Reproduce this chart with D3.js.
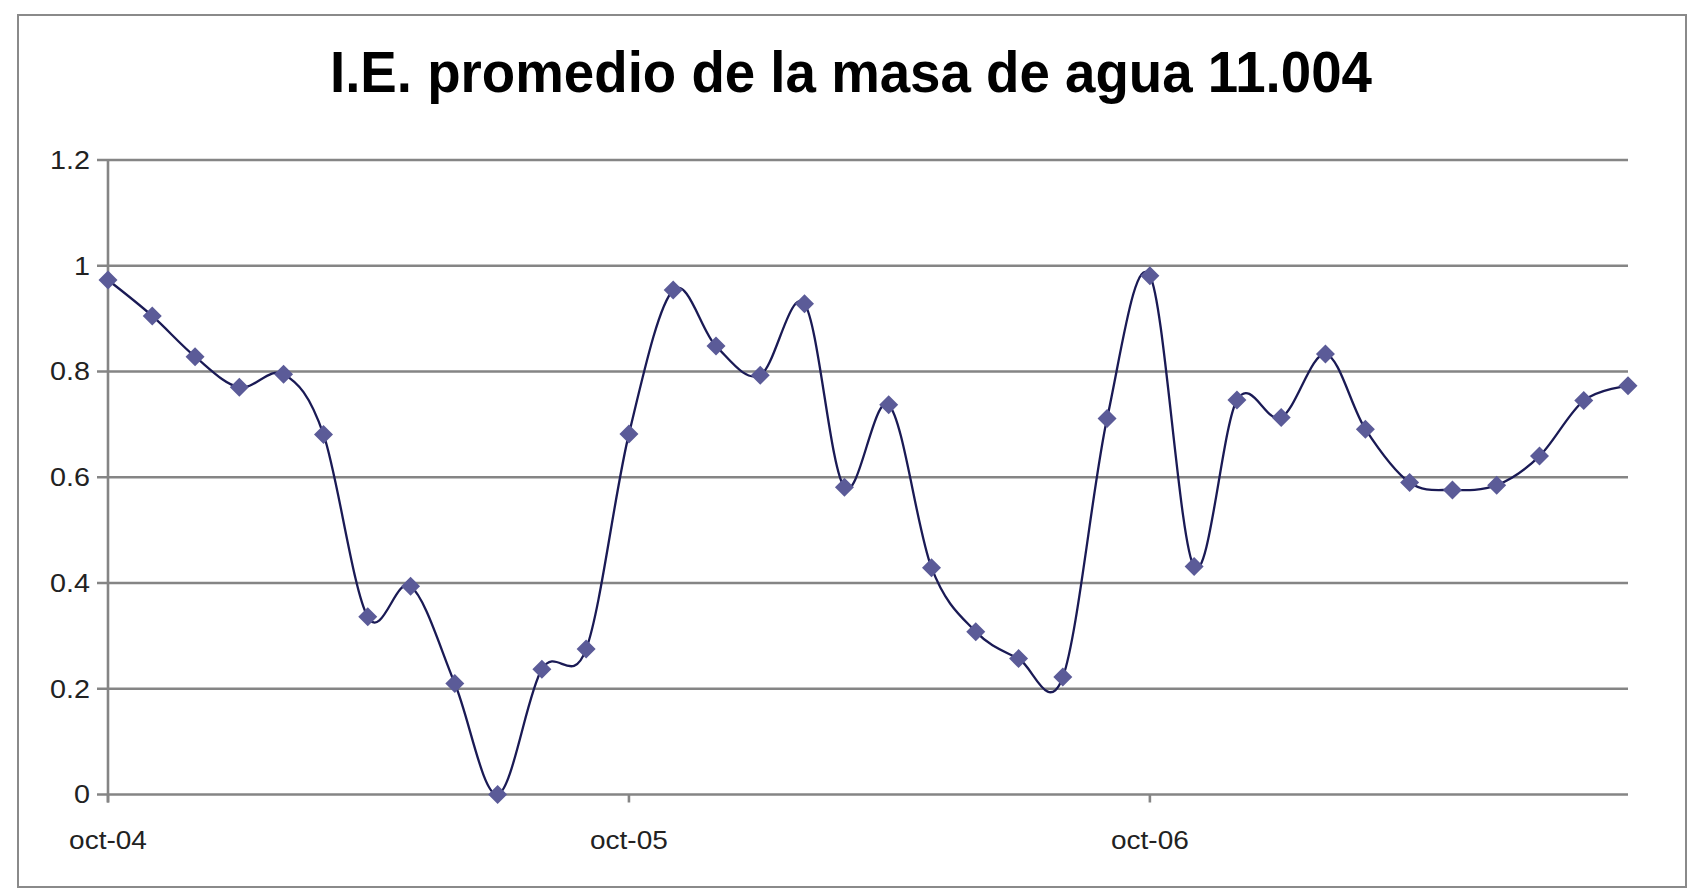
<!DOCTYPE html>
<html>
<head>
<meta charset="utf-8">
<script src="https://cdn.jsdelivr.net/npm/d3@7"></script>
<style>
	body { margin: 0; background: #fff; }
	text { font-family: Arial, "Liberation Sans", sans-serif; }
</style>
</head>
<body>
<div id="svg"></div>
<script>
const width = 1693,
			height = 889;

// months, oct-04 .. sep-07
const months = ["2004-10", "2004-11", "2004-12", "2005-01", "2005-02", "2005-03",
	"2005-04", "2005-05", "2005-06", "2005-07", "2005-08", "2005-09",
	"2005-10", "2005-11", "2005-12", "2006-01", "2006-02", "2006-03",
	"2006-04", "2006-05", "2006-06", "2006-07", "2006-08", "2006-09",
	"2006-10", "2006-11", "2006-12", "2007-01", "2007-02", "2007-03",
	"2007-04", "2007-05", "2007-06", "2007-07", "2007-08", "2007-09"];

const ieValues = [0.973, 0.905, 0.828, 0.770, 0.795, 0.681,
	0.336, 0.394, 0.210, 0.0, 0.237, 0.275,
	0.682, 0.954, 0.848, 0.793, 0.928, 0.581,
	0.737, 0.429, 0.308, 0.257, 0.222, 0.711,
	0.981, 0.431, 0.746, 0.713, 0.833, 0.691,
	0.590, 0.576, 0.585, 0.640, 0.745, 0.773];

const yTicks = [0, 0.2, 0.4, 0.6, 0.8, 1, 1.2];
const yTickLabels = ["0", "0.2", "0.4", "0.6", "0.8", "1", "1.2"];
const xTicks = ["2004-10", "2005-10", "2006-10"];
const xTickLabels = ["oct-04", "oct-05", "oct-06"];

const title = "I.E. promedio de la masa de agua 11.004";

const parseMonth = d3.timeParse("%Y-%m");
const data = months.map((m, i) => ({date: parseMonth(m), value: ieValues[i]}));

const svg = d3.select("#svg")
	.append("svg")
		.attr("width", width)
		.attr("height", height);

// chart frame
svg.append("rect")
		.attr("x", 18)
		.attr("y", 15)
		.attr("width", 1668)
		.attr("height", 872)
		.attr("fill", "#fff")
		.attr("stroke", "#8a8a8a")
		.attr("stroke-width", 2);

svg.append("text")
		.attr("x", 851)
		.attr("y", 92)
		.attr("text-anchor", "middle")
		.attr("textLength", 1042)
		.attr("lengthAdjust", "spacingAndGlyphs")
		.style("font-size", "57px")
		.style("font-weight", "bold")
		.attr("fill", "#000")
		.text(title);

const x = d3.scaleTime()
		.domain(d3.extent(data, d => d.date))
		.range([108, 1628]);

const y = d3.scaleLinear()
		.domain([0, 1.2])
		.range([794.5, 160]);

// gridlines
svg.append("g")
	.selectAll("line")
	.data(yTicks)
	.enter()
	.append("line")
		.attr("x1", 97)
		.attr("x2", x.range()[1])
		.attr("y1", y)
		.attr("y2", y)
		.attr("stroke", "#858585")
		.attr("stroke-width", 2.6);

// y axis line
svg.append("line")
		.attr("x1", 108)
		.attr("x2", 108)
		.attr("y1", y(1.2))
		.attr("y2", y(0) + 8)
		.attr("stroke", "#858585")
		.attr("stroke-width", 2.6);

svg.append("g")
		.attr("text-anchor", "end")
	.selectAll("text")
	.data(yTicks)
	.enter()
	.append("text")
		.attr("transform", d => `translate(90, ${y(d)}) scale(1.15, 1)`)
		.attr("dy", "0.35em")
		.style("font-size", "25px")
		.attr("fill", "#222")
		.text((d, i) => yTickLabels[i]);

// x ticks + labels
const xt = svg.append("g")
	.selectAll("g")
	.data(xTicks)
	.enter()
	.append("g")
		.attr("transform", d => `translate(${x(parseMonth(d))}, ${y(0)})`);

xt.append("line")
		.attr("y2", 8)
		.attr("stroke", "#858585")
		.attr("stroke-width", 2.6);

xt.append("text")
		.attr("transform", "translate(0, 54) scale(1.12, 1)")
		.attr("text-anchor", "middle")
		.style("font-size", "25px")
		.attr("fill", "#222")
		.text((d, i) => xTickLabels[i]);

// smoothed series line
svg.append("path")
		.datum(data)
		.attr("fill", "none")
		.attr("stroke", "#1a1a55")
		.attr("stroke-width", 2.3)
		.attr("d", d3.line()
				.curve(d3.curveCardinal.tension(0))
				.x(d => x(d.date))
				.y(d => y(d.value)));

// diamond markers
svg.append("g")
	.selectAll("path")
	.data(data)
	.enter()
	.append("path")
		.attr("transform", d => `translate(${x(d.date)}, ${y(d.value)})`)
		.attr("d", "M0,-9.5L9.5,0L0,9.5L-9.5,0Z")
		.attr("fill", "#5b5b98");
</script>
</body>
</html>
